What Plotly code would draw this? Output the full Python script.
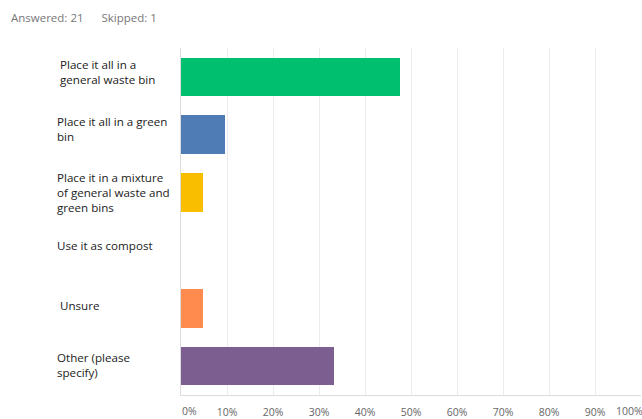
import plotly.graph_objects as go

# Survey responses (share of 21 answers)
categories = [
    "Place it all in a<br>general waste bin",
    "Place it all in a green<br>bin",
    "Place it in a mixture<br>of general waste and<br>green bins",
    "Use it as compost",
    "Unsure",
    "Other (please<br>specify)",
]
counts = [10, 2, 1, 0, 1, 7]
answered = 21
skipped = 1
percent = [c / answered * 100 for c in counts]
bar_colors = ["#00BF6F", "#507CB6", "#F9BE00", "#6BC8CD", "#FF8B4F", "#7D5E90"]
tick_vals = list(range(0, 101, 10))
tick_text = [f"{v}%" for v in tick_vals]

# Label offsets (px) for left-side category text
label_dx = [3, 0, 0, 0, 3, 0]
label_dy = [5, 6, 0, 5, 3, 1]

tick_font = dict(family="Open Sans, sans-serif", size=10.5, color="#666")

fig = go.Figure()
fig.add_trace(go.Bar(
    x=percent,
    y=list(range(len(categories))),
    orientation="h",
    marker=dict(color=bar_colors, line=dict(width=0)),
    width=0.67,
    hoverinfo="skip",
))

annotations = []
for i, cat in enumerate(categories):
    annotations.append(dict(
        x=-0.274, xref="paper", y=i, yref="y",
        text=cat, showarrow=False, xanchor="left", yanchor="middle",
        align="left", xshift=label_dx[i], yshift=label_dy[i],
        font=dict(family="Open Sans, sans-serif", size=11.6, color="#222"),
    ))

# End tick labels sit inside the plot edges
annotations.append(dict(
    x=tick_vals[0], xref="x", y=0, yref="paper", text=tick_text[0],
    showarrow=False, xanchor="left", yanchor="top", yshift=-7, xshift=-1,
    font=tick_font,
))
annotations.append(dict(
    x=tick_vals[-1], xref="x", y=0, yref="paper", text=tick_text[-1],
    showarrow=False, xanchor="right", yanchor="top", yshift=-7, xshift=4,
    font=tick_font,
))

annotations.append(dict(
    x=-0.374, xref="paper", y=1.088, yref="paper",
    text=f"Answered: {answered}&nbsp;&nbsp;&nbsp;&nbsp;&nbsp;&nbsp;Skipped: {skipped}",
    showarrow=False, xanchor="left", yanchor="middle",
    font=dict(family="Open Sans, sans-serif", size=11.5, color="#777"),
))

fig.update_layout(
    width=642, height=419,
    margin=dict(l=181, r=1, t=48, b=24),
    paper_bgcolor="white", plot_bgcolor="white",
    showlegend=False,
    bargap=0,
    annotations=annotations,
    xaxis=dict(
        range=[0, 100], tickvals=tick_vals[1:-1], ticktext=tick_text[1:-1],
        showgrid=True, gridcolor="#ececec", gridwidth=1,
        zeroline=False, showline=True, linecolor="#dcdcdc", linewidth=1,
        tickfont=tick_font, automargin=False,
        ticks="", ticklabelstandoff=7, fixedrange=True,
    ),
    yaxis=dict(
        range=[len(categories) - 0.5, -0.5], showticklabels=False,
        showgrid=False, zeroline=False, showline=True, linecolor="#dcdcdc",
        linewidth=1, ticks="", fixedrange=True, automargin=False,
    ),
)

fig.write_html("out.html", config={"displayModeBar": False})
